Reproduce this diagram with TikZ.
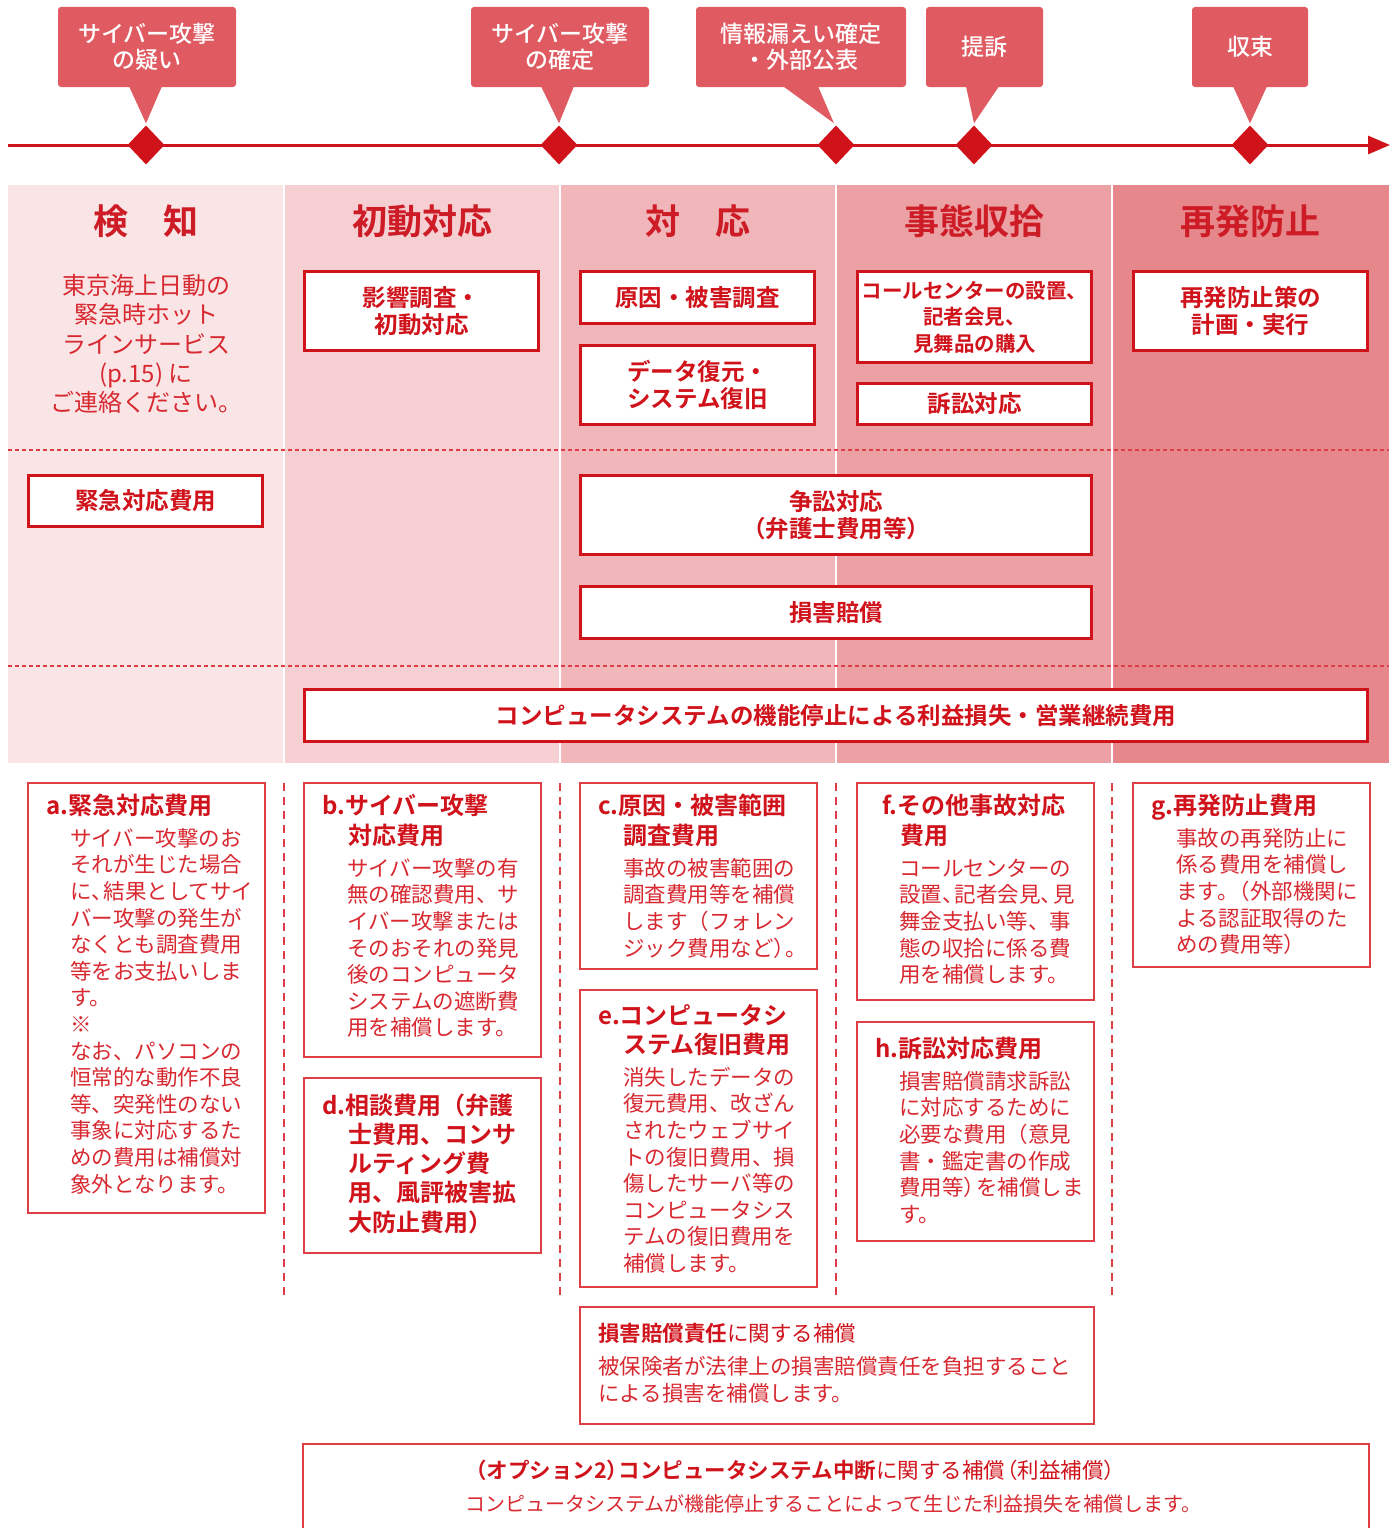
\documentclass[tikz,border=0pt]{standalone}
\usepackage{fontspec}
\setmainfont{Noto Sans CJK JP}[BoldFont={Noto Sans CJK JP Bold}]
\newfontfamily\jpmed{Noto Sans CJK JP Medium}
\usetikzlibrary{shapes.geometric,calc,arrows.meta}
\definecolor{tred}{RGB}{208,18,27}
\definecolor{hred}{RGB}{205,28,38}
\definecolor{bred}{RGB}{216,40,48}
\definecolor{dred}{RGB}{222,62,70}
\definecolor{callfill}{RGB}{224,90,98}
\definecolor{colA}{RGB}{249,229,230}
\definecolor{colB}{RGB}{245,207,209}
\definecolor{colC}{RGB}{240,182,185}
\definecolor{colD}{RGB}{235,160,163}
\definecolor{colE}{RGB}{230,135,139}
\newcommand\jtc{、\kern-0.42em}
\newcommand\jrp{）\kern-0.42em}
\newcommand\jlp{\kern-0.42em（}
\newcommand\jkp{。\kern-0.45em}
\newcommand\jpk{）\kern-0.45em}
\tikzset{
  callout/.style={fill=callfill, rounded corners=3pt, inner sep=0pt, text=white,
    align=center, font=\jpmed\fontsize{23}{26}\selectfont, minimum height=80pt},
  dmd/.style={diamond, fill=tred, inner sep=0pt, minimum width=37pt, minimum height=39pt},
  head/.style={text=hred, font=\bfseries\fontsize{35}{35}\selectfont, inner sep=0pt},
  bigbox/.style={draw=tred, line width=3pt, fill=white, inner sep=0pt, text=tred,
    align=center, font=\bfseries\fontsize{23.5}{26.5}\selectfont},
  descbox/.style={draw=dred, line width=1.8pt, fill=white, inner sep=0pt, anchor=north west},
  ttl/.style={text=tred, font=\bfseries\fontsize{24}{24}\selectfont, inner sep=0pt, anchor=base west},
  body/.style={text=bred, font=\fontsize{21.5}{21.5}\selectfont, inner sep=0pt, anchor=base west},
  hdots/.style={draw=dred, line width=2pt, dash pattern=on 4pt off 3pt},
  vdash/.style={draw=dred, line width=1.5pt, dash pattern=on 8pt off 6pt},
}
\newcommand\blines[5]{\foreach \t [count=\i from 0] in {#5} {\node[body] (#1\i) at (#2, {#3+8.2+\i*#4}) {\t};}}
\begin{document}
\begin{tikzpicture}[x=1pt,y=-1pt]
\useasboundingbox (0,0) rectangle (1397,1528);
\fill[white] (0,0) rectangle (1397,1528);

% ---- timeline ----
\coordinate (tl0) at (8,145);
\coordinate (tl1) at (1390,145);
\draw[tred, line width=3pt, -{Triangle[length=22pt,width=18pt]}] (tl0) -- (tl1);
\node[dmd] (d1) at (146,145) {};
\node[dmd] (d2) at (559,145) {};
\node[dmd] (d3) at (836,145) {};
\node[dmd] (d4) at (974,145) {};
\node[dmd] (d5) at (1250,145) {};

\node[callout, minimum width=178pt] (c1) at (147,47) {サイバー攻撃\\の疑い};
\node[callout, minimum width=178pt] (c2) at (560,47) {サイバー攻撃\\の確定};
\node[callout, minimum width=210pt] (c3) at (801,47) {情報漏えい確定\\・外部公表};
\node[callout, minimum width=117pt] (c4) at (984.5,47) {提訴};
\node[callout, minimum width=116pt] (c5) at (1250,47) {収束};
\fill[callfill] ($(c1.south)+(-18,-1)$) -- ($(d1.north)+(0,-2)$) -- ($(c1.south)+(15,-1)$) -- cycle;
\fill[callfill] ($(c2.south)+(-19,-1)$) -- ($(d2.north)+(0,-2)$) -- ($(c2.south)+(14,-1)$) -- cycle;
\fill[callfill] ($(c3.south)+(-18,-1)$) -- ($(d3.north)+(-2,-2)$) -- ($(c3.south)+(17,-1)$) -- cycle;
\fill[callfill] ($(c4.south)+(-18.5,-1)$) -- ($(d4.north)+(0,-2)$) -- ($(c4.south)+(14.5,-1)$) -- cycle;
\fill[callfill] ($(c5.south)+(-17,-1)$) -- ($(d5.north)+(0,-2)$) -- ($(c5.south)+(17,-1)$) -- cycle;

% ---- phase columns ----
\fill[colA] (8,185) rectangle (283,763);
\fill[colB] (285,185) rectangle (559,763);
\fill[colC] (561,185) rectangle (835,763);
\fill[colD] (837,185) rectangle (1111,763);
\fill[colE] (1113,185) rectangle (1389,763);
\draw[hdots] (8,449.5) -- (1389,449.5);
\draw[hdots] (8,665.5) -- (1389,665.5);

\node[head] (h1) at (146,221) {検　知};
\node[head] (h2) at (422,221) {初動対応};
\node[head] (h3) at (698,221) {対　応};
\node[head] (h4) at (974,221) {事態収拾};
\node[head] (h5) at (1250,221) {再発防止};

\node[text=bred, align=center, inner sep=0pt, font=\fontsize{24}{29.3}\selectfont] (hot) at (146,344) {東京海上日動の\\緊急時ホット\\ラインサービス\\(p.15) に\\ご連絡ください。};

\node[bigbox, minimum width=234pt, minimum height=79pt] (bInit) at (421.5,311) {影響調査・\\初動対応};
\node[bigbox, minimum width=234pt, minimum height=52pt] (bCause) at (697.5,297.5) {原因・被害調査};
\node[bigbox, minimum width=234pt, minimum height=79pt] (bData) at (697.5,385) {データ復元・\\システム復旧};
\node[bigbox, minimum width=234pt, minimum height=91pt, font=\bfseries\fontsize{20.5}{26.5}\selectfont] (bCall) at (974.5,317) {コールセンターの設置、\\記者会見、\\見舞品の購入};
\node[bigbox, minimum width=234pt, minimum height=41pt] (bSuit) at (974.5,404) {訴訟対応};
\node[bigbox, minimum width=234pt, minimum height=79pt] (bPrev) at (1250.5,311) {再発防止策の\\計画・実行};
\node[bigbox, minimum width=234pt, minimum height=51pt] (bEmerg) at (145.5,501) {緊急対応費用};
\node[bigbox, minimum width=511pt, minimum height=79pt] (bLit) at (836,515) {争訟対応\\\jlp{}弁護士費用等\jrp{}};
\node[bigbox, minimum width=511pt, minimum height=52pt] (bDmg) at (836,612.5) {損害賠償};
\node[bigbox, minimum width=1063pt, minimum height=52pt] (bBiz) at (836,715.5) {コンピュータシステムの機能停止による利益損失・営業継続費用};

% ---- lower dashed separators ----
\foreach \x/\n in {284/s1,560/s2,836/s3,1112/s4} {
  \coordinate (\n a) at (\x,783);
  \coordinate (\n b) at (\x,1295);
  \draw[vdash] (\n a) -- (\n b);
}

% ---- description boxes ----
\node[descbox, minimum width=237pt, minimum height=430pt] (A) at (27,782) {};
\node[ttl] (At) at (46,814) {a.緊急対応費用};
\blines{Ab}{70}{838}{26.6}{サイバー攻撃のお,それが生じた場合,に\jtc{}結果としてサイ,バー攻撃の発生が,なくとも調査費用,等をお支払いしま,す。,※,なお、パソコンの,恒常的な動作不良,等、突発性のない,事象に対応するた,めの費用は補償対,象外となります。}

\node[descbox, minimum width=237pt, minimum height=274pt] (B) at (303,782) {};
\node[ttl] (Bt1) at (322,814) {b.サイバー攻撃};
\node[ttl] (Bt2) at (348,844) {対応費用};
\blines{Bb}{347}{868}{26.6}{サイバー攻撃の有,無の確認費用、サ,イバー攻撃または,そのおそれの発見,後のコンピュータ,システムの遮断費,用を補償します。}

\node[descbox, minimum width=237pt, minimum height=175pt] (D) at (303,1077) {};
\node[ttl] (Dt1) at (322,1114) {d.相談費用（弁護};
\node[ttl] (Dt2) at (348,1143.3) {士費用、コンサ};
\node[ttl] (Dt3) at (348,1172.6) {ルティング費};
\node[ttl] (Dt4) at (348,1201.9) {用、風評被害拡};
\node[ttl] (Dt5) at (348,1231.2) {大防止費用）};

\node[descbox, minimum width=237pt, minimum height=186pt] (C) at (579,782) {};
\node[ttl] (Ct1) at (598,814) {c.原因・被害範囲};
\node[ttl] (Ct2) at (623,844) {調査費用};
\blines{Cb}{623}{868}{26.6}{事故の被害範囲の,調査費用等を補償,します（フォレン,ジック費用など\jpk{}。}

\node[descbox, minimum width=237pt, minimum height=297pt] (E) at (579,989) {};
\node[ttl] (Et1) at (598,1024) {e.コンピュータシ};
\node[ttl] (Et2) at (623,1053) {ステム復旧費用};
\blines{Eb}{623}{1077}{26.6}{消失したデータの,復元費用、改ざん,されたウェブサイ,トの復旧費用、損,傷したサーバ等の,コンピュータシス,テムの復旧費用を,補償します。}

\node[descbox, minimum width=237pt, minimum height=217pt] (F) at (856,782) {};
\node[ttl] (Ft1) at (882,814) {f.その他事故対応};
\node[ttl] (Ft2) at (900,844) {費用};
\blines{Fb}{899}{868}{26.6}{コールセンターの,設置\jtc{}記者会見\jtc{}見,舞金支払い等、事,態の収拾に係る費,用を補償します。}

\node[descbox, minimum width=237pt, minimum height=219pt] (H) at (856,1021) {};
\node[ttl] (Ht1) at (875,1057) {h.訴訟対応費用};
\blines{Hb}{899}{1081}{26.6}{損害賠償請求訴訟,に対応するために,必要な費用（意見,書・鑑定書の作成,費用等\jrp{}を補償しま,す。}

\node[descbox, minimum width=237pt, minimum height=184pt] (G) at (1132,782) {};
\node[ttl] (Gt1) at (1151,814) {g.再発防止費用};
\blines{Gb}{1176}{838}{26.6}{事故の再発防止に,係る費用を補償し,ます\jkp{}（外部機関に,よる認証取得のた,めの費用等）}

% ---- liability ----
\node[descbox, minimum width=514pt, minimum height=117pt] (L) at (579,1306) {};
\node[body, text=tred] (Lt) at (598,1341.2) {\textbf{損害賠償責任}に関する補償};
\blines{Lb}{598}{1366}{27}{被保険者が法律上の損害賠償責任を負担すること,による損害を補償します。}

% ---- option 2 ----
\coordinate (O1) at (303,1540);
\coordinate (O2) at (303,1444);
\coordinate (O3) at (1369,1444);
\coordinate (O4) at (1369,1540);
\fill[white] (O1) rectangle (O3);
\draw[dred, line width=1.8pt] (O1) -- (O2) -- (O3) -- (O4);
\node[body, text=tred] (Ot) at (465,1478.2) {\textbf{（オプション2\jpk{}コンピュータシステム中断}に関する補償\jlp{}利益補償）};
\node[body, font=\fontsize{20}{20}\selectfont] (Ob) at (465,1511.6) {コンピュータシステムが機能停止することによって生じた利益損失を補償します。};
\end{tikzpicture}
\end{document}
